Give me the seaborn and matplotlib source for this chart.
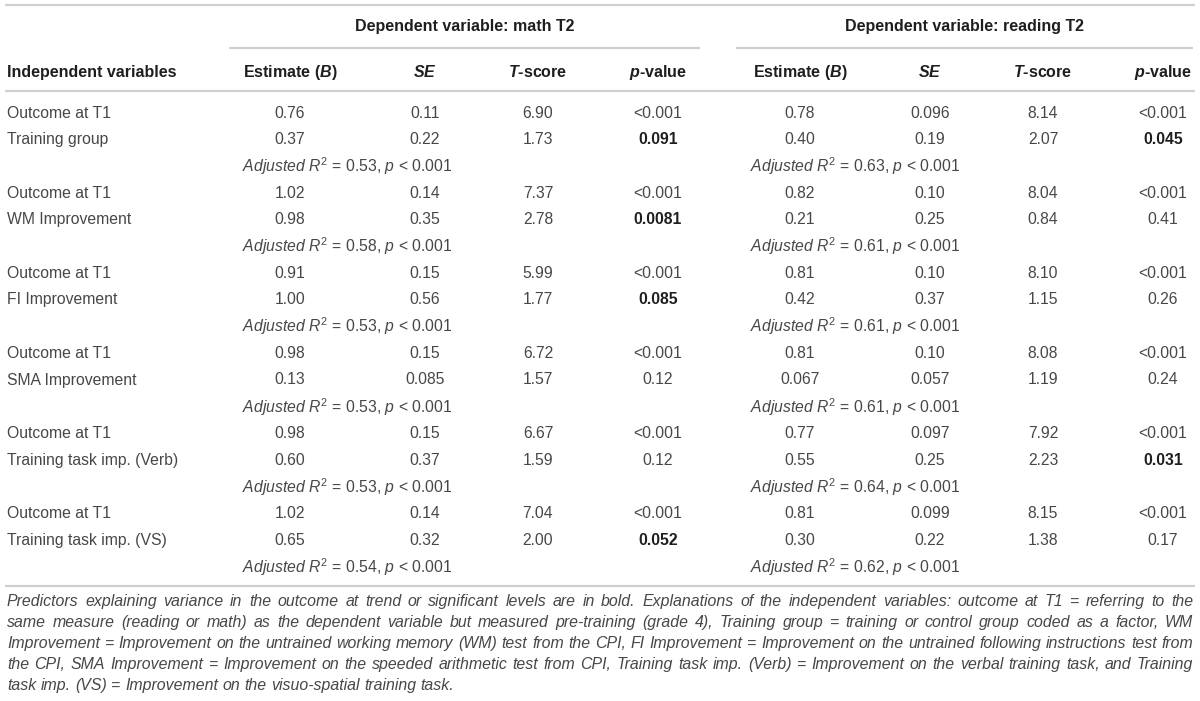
import numpy as np
import matplotlib
matplotlib.use("Agg")
import matplotlib.pyplot as plt
import seaborn as sns

# ---- table contents ----
predictors = ["Training group", "WM Improvement", "FI Improvement",
              "SMA Improvement", "Training task imp. (Verb)", "Training task imp. (VS)"]

# math T2 : (outcome row, predictor row)
math_est = [("0.76", "0.37"), ("1.02", "0.98"), ("0.91", "1.00"), ("0.98", "0.13"), ("0.98", "0.60"), ("1.02", "0.65")]
math_se = [("0.11", "0.22"), ("0.14", "0.35"), ("0.15", "0.56"), ("0.15", "0.085"), ("0.15", "0.37"), ("0.14", "0.32")]
math_t = [("6.90", "1.73"), ("7.37", "2.78"), ("5.99", "1.77"), ("6.72", "1.57"), ("6.67", "1.59"), ("7.04", "2.00")]
math_p = [("<0.001", "0.091"), ("<0.001", "0.0081"), ("<0.001", "0.085"), ("<0.001", "0.12"), ("<0.001", "0.12"), ("<0.001", "0.052")]
math_r2 = ["0.53", "0.58", "0.53", "0.53", "0.53", "0.54"]

# reading T2
read_est = [("0.78", "0.40"), ("0.82", "0.21"), ("0.81", "0.42"), ("0.81", "0.067"), ("0.77", "0.55"), ("0.81", "0.30")]
read_se = [("0.096", "0.19"), ("0.10", "0.25"), ("0.10", "0.37"), ("0.10", "0.057"), ("0.097", "0.25"), ("0.099", "0.22")]
read_t = [("8.14", "2.07"), ("8.04", "0.84"), ("8.10", "1.15"), ("8.08", "1.19"), ("7.92", "2.23"), ("8.15", "1.38")]
read_p = [("<0.001", "0.045"), ("<0.001", "0.41"), ("<0.001", "0.26"), ("<0.001", "0.24"), ("<0.001", "0.031"), ("<0.001", "0.17")]
read_r2 = ["0.63", "0.61", "0.61", "0.61", "0.64", "0.62"]

bold_p = ["0.091", "0.045", "0.0081", "0.085", "0.052", "0.031"]

col_heads = [r"Estimate ($\mathbf{B}$)", r"$\mathbf{SE}$", r"$\mathbf{T}$-score", r"$\mathbf{p}$-value"]
group_heads = ["Dependent variable: math T2", "Dependent variable: reading T2"]

caption = [
    "Predictors explaining variance in the outcome at trend or significant levels are in bold. Explanations of the independent variables: outcome at T1 = referring to the",
    "same measure (reading or math) as the dependent variable but measured pre-training (grade 4), Training group = training or control group coded as a factor, WM",
    "Improvement = Improvement on the untrained working memory (WM) test from the CPI, FI Improvement = Improvement on the untrained following instructions test from",
    "the CPI, SMA Improvement = Improvement on the speeded arithmetic test from CPI, Training task imp. (Verb) = Improvement on the verbal training task, and Training",
    "task imp. (VS) = Improvement on the visuo-spatial training task.",
]

# ---- style ----
sns.set_theme(style="white")
plt.rcParams["font.family"] = ["Liberation Sans", "DejaVu Sans"]
plt.rcParams["mathtext.fontset"] = "custom"
plt.rcParams["mathtext.rm"] = "Liberation Sans"
plt.rcParams["mathtext.it"] = "Liberation Sans:italic"
plt.rcParams["mathtext.bf"] = "Liberation Sans:italic:bold"

body_c = "#474747"
head_c = "#1e1e1e"
line_c = "#cfcfcf"
fs_body = 11.3
fs_head = 11.5
fs_cap = 11.4

fig = plt.figure(figsize=(12, 7.01), dpi=100)
ax = fig.add_axes([0, 0, 1, 1])
ax.set_xlim(0, 1200)
ax.set_ylim(701, 0)
ax.axis("off")

left_cols = [290, 425, 538, 658]
right_cols = [800, 930, 1043, 1163]
x_label = 7
y_group, y_gline, y_head, y_hline = 27, 48, 72, 91
y0, step = 113, 26.7

# rules
ax.hlines(5, 5, 1195, color=line_c, lw=1.6)
ax.hlines(y_gline, 229, 700, color=line_c, lw=1.6)
ax.hlines(y_gline, 736, 1193, color=line_c, lw=1.6)
ax.hlines(y_hline, 5, 1195, color=line_c, lw=1.6)

ax.text(np.mean([229, 700]), y_group, group_heads[0], ha="center", va="center",
        fontsize=fs_head, fontweight="bold", color=head_c)
ax.text(np.mean([736, 1193]), y_group, group_heads[1], ha="center", va="center",
        fontsize=fs_head, fontweight="bold", color=head_c)
ax.text(x_label, y_head, "Independent variables", ha="left", va="center",
        fontsize=fs_head, fontweight="bold", color=head_c)
for cols in (left_cols, right_cols):
    for x, h in zip(cols, col_heads):
        ax.text(x, y_head, h, ha="center", va="center", fontsize=fs_head,
                fontweight="bold", color=head_c)

row = 0
for i, pred in enumerate(predictors):
    for j, lab in enumerate(["Outcome at T1", pred]):
        y = y0 + row * step
        ax.text(x_label, y, lab, ha="left", va="center", fontsize=fs_body, color=body_c)
        for cols, vals in ((left_cols, (math_est, math_se, math_t, math_p)),
                           (right_cols, (read_est, read_se, read_t, read_p))):
            for k, (x, v) in enumerate(zip(cols, vals)):
                s = v[i][j]
                bold = k == 3 and s in bold_p
                ax.text(x, y, s, ha="center", va="center", fontsize=fs_body,
                        fontweight="bold" if bold else "normal",
                        color=head_c if bold else body_c)
        row += 1
    y = y0 + row * step
    ax.text(242, y, r"$Adjusted\ R^2$ = %s, $p$ < 0.001" % math_r2[i], ha="left",
            va="center", fontsize=fs_body, color=body_c)
    ax.text(750, y, r"$Adjusted\ R^2$ = %s, $p$ < 0.001" % read_r2[i], ha="left",
            va="center", fontsize=fs_body, color=body_c)
    row += 1

y_bottom = y0 + (row - 1) * step + 19
ax.hlines(y_bottom, 5, 1195, color=line_c, lw=1.6)

# caption, justified between x_label and 1193
fig.canvas.draw()
renderer = fig.canvas.get_renderer()
cap_y0, cap_step = y_bottom + 16, 21
for n, line in enumerate(caption):
    y = cap_y0 + n * cap_step
    words = line.split(" ")
    texts = [ax.text(0, y, w, ha="left", va="center", fontsize=fs_cap,
                     style="italic", color=body_c) for w in words]
    widths = [t.get_window_extent(renderer).width for t in texts]
    if n < len(caption) - 1:
        gap = (1193 - x_label - sum(widths)) / (len(words) - 1)
    else:
        gap = fs_cap * 100 / 72 * 0.28
    x = x_label
    for t, w in zip(texts, widths):
        t.set_x(x)
        x += w + gap

fig.savefig("out.png", dpi=100)
